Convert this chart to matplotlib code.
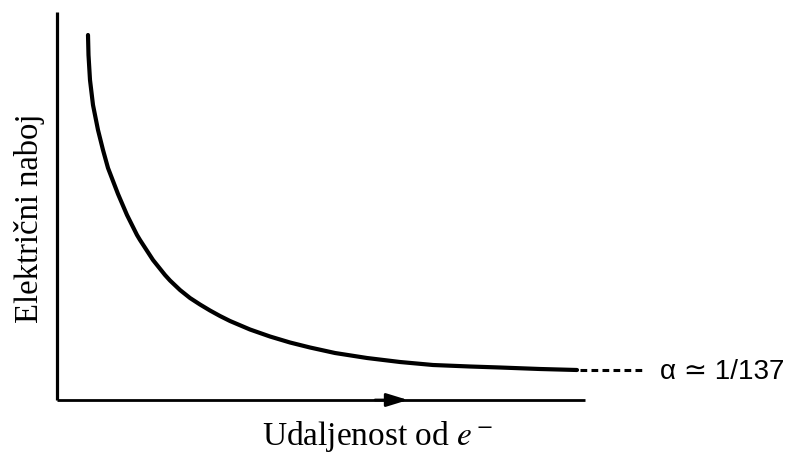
import matplotlib
matplotlib.use("Agg")
import numpy as np
import matplotlib.pyplot as plt

# podaci ocitani sa slike (proizvoljne jedinice)
udaljenost = [31, 31.5, 33, 36, 41, 46, 51, 61, 70, 80, 83, 96, 108, 113,
              123, 133, 143, 153, 163, 173, 193, 213, 233, 253, 278, 310,
              343, 376, 413, 443, 483, 520]
naboj = [365, 345, 320, 295, 270, 250, 232, 206, 185, 165, 160, 140, 125,
         119.5, 110, 102, 95.5, 89.5, 84, 79, 70.5, 63.5, 57.5, 52.5, 47, 42,
         38, 35, 33.5, 32.5, 31, 30]
asimptota_x = [523, 588]
oznaka = "α ≃ 1/137"

plt.rcParams['mathtext.fontset'] = 'stix'

fig = plt.figure(figsize=(7.9, 4.54), dpi=100)
ax = fig.add_axes([0, 0, 1, 1])
ax.set_xlim(-57, 733)
ax.set_ylim(-54, 400)
ax.axis('off')

# osi
ax.plot([0, 0], [0, 388], color='black', lw=2.3, solid_capstyle='butt')
ax.plot([0, 528], [0, 0], color='black', lw=2.0, solid_capstyle='butt')
ax.annotate('', xy=(351, 0), xytext=(318, 0),
            arrowprops=dict(arrowstyle='-|>,head_length=1.3,head_width=0.4',
                            color='black', lw=2.0, shrinkA=0, shrinkB=0))

# krivulja
ax.plot(udaljenost, naboj, color='black', lw=3.0, solid_capstyle='round',
        solid_joinstyle='round')
ax.plot(asimptota_x, [naboj[-1], naboj[-1]], color='black', lw=2.2,
        linestyle=(0, (2.2, 1.4)))
ax.text(603, naboj[-1] - 2, oznaka, fontsize=20, va='center', ha='left',
        family=['Liberation Sans', 'DejaVu Sans'])

ax.text(321, -37, r'Udaljenost od $e^-$', fontsize=24, ha='center',
        va='center', family='Liberation Serif')
ax.text(-27, 182, 'Električni naboj', fontsize=23.5, ha='center', va='center',
        rotation=90, family='Liberation Serif')

fig.savefig('out.png', dpi=100)
